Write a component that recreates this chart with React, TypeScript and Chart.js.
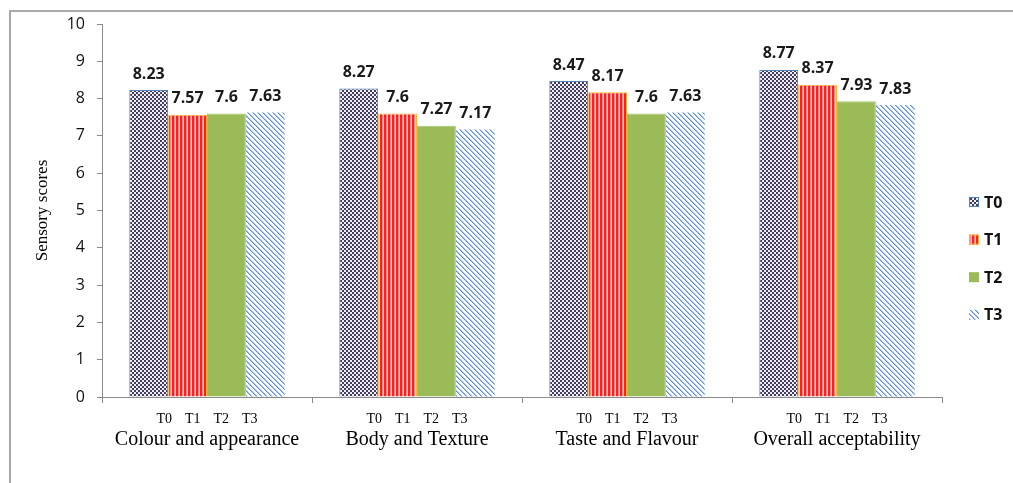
import React, { useEffect, useRef } from "react";
import { Chart, registerables } from "chart.js";

Chart.register(...registerables);

const categories = ["Colour and appearance", "Body and Texture", "Taste and Flavour", "Overall acceptability"];
const seriesNames = ["T0", "T1", "T2", "T3"];
const t0Values = [8.23, 8.27, 8.47, 8.77];
const t1Values = [7.57, 7.6, 8.17, 8.37];
const t2Values = [7.6, 7.27, 7.6, 7.93];
const t3Values = [7.63, 7.17, 7.63, 7.83];
const yMin = 0;
const yMax = 10;
const yStep = 1;
const yTitle = "Sensory scores";

function pixelPattern(w: number, h: number, fn: (x: number, y: number) => string): CanvasPattern | string {
  const c = document.createElement("canvas");
  c.width = w;
  c.height = h;
  const ctx = c.getContext("2d")!;
  for (let y = 0; y < h; y++) {
    for (let x = 0; x < w; x++) {
      ctx.fillStyle = fn(x, y);
      ctx.fillRect(x, y, 1, 1);
    }
  }
  return ctx.createPattern(c, "repeat") || "#888";
}

export default function App() {
  const ref = useRef<HTMLCanvasElement | null>(null);

  useEffect(() => {
    if (!ref.current) return;
    const checker = pixelPattern(4, 4, (x, y) =>
      (Math.floor(x / 2) + Math.floor(y / 2)) % 2 === 0 ? "#453e5e" : "#eeecf4"
    );
    const vstripes = pixelPattern(4, 1, (x) => (x < 2 ? "#ff1f1f" : x === 2 ? "#ff8a8a" : "#ffd9d9"));
    const diag = pixelPattern(5, 5, (x, y) => {
      const d = (((x - y) % 5) + 5) % 5;
      return d === 0 ? "#5d90d6" : d === 1 ? "#a3c1ea" : "#ffffff";
    });

    const fills = [checker, vstripes, "#9bbb59", diag];
    const borders = ["#4f81bd", "#f7b733", "#a5c46a", "rgba(0,0,0,0)"];
    const values = [t0Values, t1Values, t2Values, t3Values];

    const framePlugin = {
      id: "frame",
      beforeDraw(chart: any) {
        const ctx = chart.ctx;
        ctx.save();
        ctx.fillStyle = "#ffffff";
        ctx.fillRect(0, 0, chart.width, chart.height);
        ctx.strokeStyle = "#a9a9a9";
        ctx.lineWidth = 2;
        ctx.beginPath();
        ctx.moveTo(10, chart.height);
        ctx.lineTo(10, 11);
        ctx.lineTo(chart.width, 11);
        ctx.stroke();
        ctx.restore();
      },
    };

    const labelsPlugin = {
      id: "valueLabels",
      afterDatasetsDraw(chart: any) {
        const ctx = chart.ctx;
        ctx.save();
        ctx.font = "bold 16px 'Open Sans'";
        ctx.fillStyle = "#1a1a1a";
        ctx.textAlign = "center";
        ctx.textBaseline = "bottom";
        chart.data.datasets.forEach((ds: any, di: number) => {
          const meta = chart.getDatasetMeta(di);
          meta.data.forEach((bar: any, i: number) => {
            ctx.fillText(String(ds.data[i]), bar.x, bar.y - 8);
          });
        });
        ctx.restore();
      },
    };

    const axisLabelsPlugin = {
      id: "axisLabels",
      afterDraw(chart: any) {
        const ctx = chart.ctx;
        const xs = chart.scales.x;
        const bottom = chart.chartArea.bottom;
        ctx.save();
        ctx.fillStyle = "#000";
        ctx.textAlign = "center";
        ctx.textBaseline = "middle";
        categories.forEach((cat, i) => {
          const cx = xs.getPixelForValue(i);
          ctx.font = "14px 'Liberation Serif'";
          seriesNames.forEach((s, j) => {
            ctx.fillText(s, cx + (j - 1.5) * 28.5, bottom + 22);
          });
          ctx.font = "20px 'Liberation Serif'";
          ctx.fillText(cat, cx, bottom + 43);
        });
        // legend
        const lx = chart.chartArea.right + 27;
        const ly0 = 202;
        const gap = 37.6;
        seriesNames.forEach((s, j) => {
          const y = ly0 + j * gap;
          ctx.fillStyle = fills[j] as any;
          ctx.fillRect(lx, y - 5, 10, 10);
          if (j !== 2 && j !== 3) {
            ctx.strokeStyle = borders[j];
            ctx.lineWidth = 1;
            ctx.strokeRect(lx + 0.5, y - 4.5, 9, 9);
          }
          ctx.fillStyle = "#111";
          ctx.textAlign = "left";
          ctx.font = "bold 16px 'Open Sans'";
          ctx.fillText(s, lx + 15, y + 1);
        });
        ctx.restore();
      },
    };

    const chart = new Chart(ref.current, {
      type: "bar",
      data: {
        labels: categories,
        datasets: seriesNames.map((name, i) => ({
          label: name,
          data: values[i],
          backgroundColor: fills[i] as any,
          borderColor: borders[i],
          borderWidth: i === 3 ? 0 : 1,
          categoryPercentage: 0.74,
          barPercentage: 1.0,
        })),
      },
      options: {
        responsive: false,
        animation: false,
        layout: { padding: { left: 10, top: 24, right: 71, bottom: 0 } },
        plugins: {
          legend: { display: false },
          tooltip: { enabled: false },
        },
        scales: {
          x: {
            grid: {
              display: true,
              drawOnChartArea: false,
              drawTicks: true,
              tickLength: 6,
              color: "#8a8a8a",
              offset: true,
            },
            border: { color: "#8a8a8a", width: 1 },
            ticks: { display: false },
            afterFit: (s: any) => {
              s.height = 86;
            },
          },
          y: {
            min: yMin,
            max: yMax,
            ticks: {
              stepSize: yStep,
              color: "#111",
              font: { family: "'Open Sans'", size: 16 },
              padding: 12,
            },
            grid: {
              drawOnChartArea: false,
              drawTicks: true,
              tickLength: 5,
              color: "#8a8a8a",
            },
            border: { color: "#8a8a8a", width: 1 },
            title: {
              display: true,
              text: yTitle,
              color: "#000",
              font: { family: "'Liberation Serif'", size: 17 },
              padding: { top: 22, bottom: 0 },
            },
            afterFit: (s: any) => {
              s.width = 92;
            },
          },
        },
      },
      plugins: [framePlugin, labelsPlugin, axisLabelsPlugin],
    });
    return () => chart.destroy();
  }, []);

  return (
    <div style={{ position: "fixed", left: 0, top: 0, width: 1013, height: 483, background: "#fff" }}>
      <canvas ref={ref} width={1013} height={483} style={{ display: "block" }} />
    </div>
  );
}
